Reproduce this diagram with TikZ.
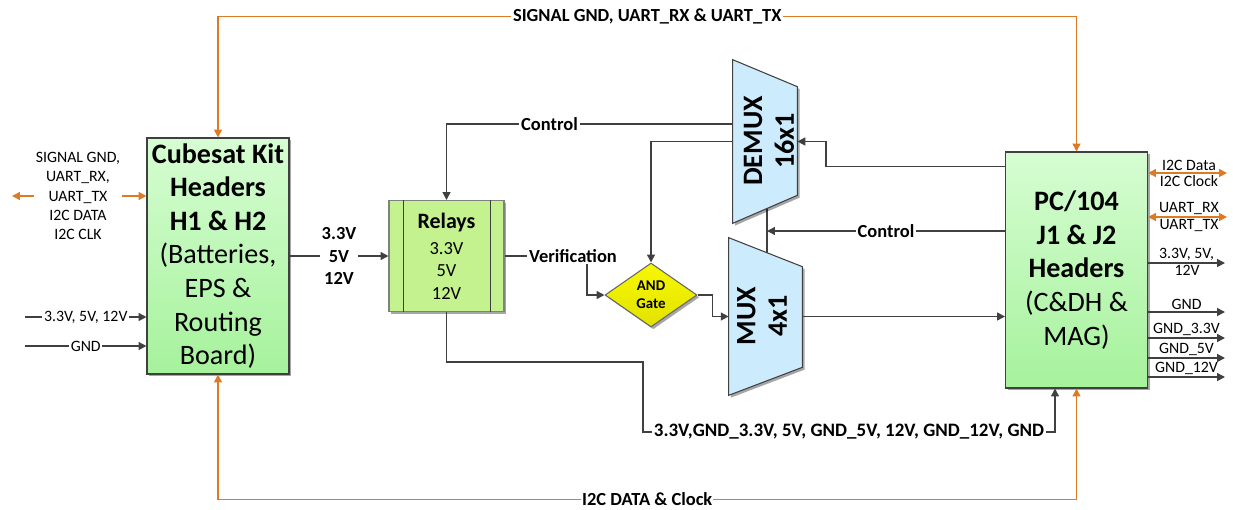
\documentclass[tikz,border=0pt]{standalone}
\usepackage{fontspec}
\setmainfont{Carlito}
\usepackage{tikz}
\usetikzlibrary{arrows.meta,positioning,calc,fit,backgrounds,shapes.geometric,shadows}
\definecolor{sigline}{HTML}{DC7A26}
\definecolor{wire}{HTML}{404040}
\definecolor{hdrtop}{HTML}{D6FDD2}
\definecolor{hdrbot}{HTML}{A6F29C}
\definecolor{relayfill}{HTML}{C4F28E}
\definecolor{muxfill}{HTML}{CCEBFC}
\definecolor{gatetop}{HTML}{F8F800}
\definecolor{gatebot}{HTML}{E2E200}

\begin{document}
\begin{tikzpicture}[x=0.02cm,y=-0.02cm,>={Triangle[length=4.5pt,width=4.5pt]},
  shd/.style={drop shadow={shadow xshift=1.3pt,shadow yshift=-1.3pt,opacity=.35,fill=black}},
  hdr/.style={draw=wire,line width=.6pt,top color=hdrtop,bottom color=hdrbot,shd,minimum width=2.84cm,minimum height=4.72cm,inner sep=0pt,align=center,font=\fontsize{16}{19.1}\selectfont},
  relay/.style={draw=black!50,line width=.6pt,fill=relayfill,shd,minimum width=2.3cm,minimum height=2.22cm,inner sep=0pt,align=center,font=\fontsize{10.5}{12.8}\selectfont},
  muxbox/.style={minimum width=#1,inner sep=0pt},
  muxbody/.style={draw=wire,line width=.6pt,fill=muxfill,shd},
  muxtxt/.style={rotate=90,align=center,font=\fontsize{16}{18}\selectfont\bfseries},
  gate/.style={diamond,draw=black!60,line width=.6pt,top color=gatetop,bottom color=gatebot,shd,minimum width=1.84cm,minimum height=1.28cm,inner sep=0pt,align=center,font=\fontsize{8.5}{10.4}\selectfont\bfseries},
  conn/.style={->,draw=wire,line width=.85pt},
  wirel/.style={draw=wire,line width=.85pt},
  sig/.style={<->,draw=sigline,line width=.9pt},
  lbl/.style={fill=white,inner sep=1pt,font=\fontsize{10.5}{12.8}\selectfont\bfseries},
  note/.style={inner sep=1pt,align=center,font=\fontsize{9}{11}\selectfont}]
 \useasboundingbox (0,0) rectangle (1233,510);
 \node[hdr] (cubesat) at (218,256) {\textbf{Cubesat Kit}\\\textbf{Headers}\\\textbf{H1 \& H2}\\(Batteries,\\EPS \&\\Routing\\Board)};
 \node[hdr] (pc104) at (1076.5,270) {\textbf{PC/104}\\\textbf{J1 \& J2}\\\textbf{Headers}\\(C\&DH \&\\MAG)};
 \node[relay] (relays) at (446.5,256) {{\fontsize{12.5}{15}\selectfont\bfseries Relays}\\[2pt]3.3V\\5V\\12V};
 \draw[wire,line width=.6pt] ($(relays.north west)+(15,0)$) -- ($(relays.south west)+(15,0)$);
 \draw[wire,line width=.6pt] ($(relays.north east)+(-14,0)$) -- ($(relays.south east)+(-14,0)$);
 \node[gate] (andg) at (651,295) {AND\\Gate};
 \node[muxbox=1.28cm,minimum height=3.26cm] (demux) at (765,141.5) {};
 \node[muxbox=1.46cm,minimum height=3.14cm] (mux) at (765.5,316.5) {};
 \coordinate (ctl) at (767,231);
 \begin{scope}[on background layer]
  \draw[wirel] (ctl |- demux.center) -- (ctl |- mux.center);
  \filldraw[muxbody] (demux.north west) -- ($(demux.north east)+(0,27)$) -- ($(demux.south east)+(0,-28)$) -- (demux.south west) -- cycle;
  \filldraw[muxbody] (mux.north west) -- ($(mux.north east)+(0,29)$) -- ($(mux.south east)+(0,-28)$) -- (mux.south west) -- cycle;
 \end{scope}
 \node[muxtxt] (demuxt) at (769,141) {DEMUX\\16x1};
 \node[muxtxt] (muxt) at (762,316) {MUX\\4x1};

 \draw[sig] (cubesat.north) -- ++(0,-121) -| node[lbl,pos=.25]{SIGNAL GND, UART\_RX \& UART\_TX} (pc104.north);
 \draw[sig] (cubesat.south) -- ++(0,125) -| node[lbl,pos=.25,inner sep=.5pt]{I2C DATA \& Clock} (pc104.south);
 \draw[conn] (cubesat.east) -- node[lbl,align=center]{3.3V\\5V\\12V} (relays.west);
 \draw[conn] ($(demux.west)+(0,-17.5)$) -| node[lbl,pos=.32]{Control} (relays.north);
 \draw[conn] (demux.west) -| (andg.north);
 \coordinate (vb) at (587,295);
 \draw[conn] (relays.east) -| (vb) -- (andg.west);
 \node[lbl] (verif) at (573,256) {Verification};
 \draw[conn] (andg.east) -- ++(15,0) |- (mux.west);
 \draw[conn] ($(pc104.north west)+(0,15)$) -- ++(-179,0) |- (demux.east);
 \draw[conn] (ctl -| pc104.west) -- node[lbl]{Control} (ctl);
 \draw[conn] (mux.east) -- (mux.east -| pc104.west);
 \draw[conn] (relays.south) |- (643,362) -- (643,432) -| node[lbl,pos=.25,font=\fontsize{10.8}{13}\selectfont\bfseries]{3.3V,GND\_3.3V, 5V, GND\_5V, 12V, GND\_12V, GND} ($(pc104.south west)+(50,0)$);

 \coordinate (lsig) at (12,196);
 \draw[sig] (lsig) -- (lsig -| cubesat.west);
 \node[note,fill=white] (lsigt) at (78,196) {SIGNAL GND,\\UART\_RX,\\UART\_TX\\I2C DATA\\I2C CLK};
 \coordinate (lpwr) at (25,317);
 \draw[conn] (lpwr) -- node[note,fill=white]{3.3V, 5V, 12V} (lpwr -| cubesat.west);
 \coordinate (lgnd) at (25,346);
 \draw[conn] (lgnd) -- node[note,fill=white]{GND} (lgnd -| cubesat.west);

 \foreach \y/\a/\b [count=\i] in {173/I2C Data/I2C Clock, 217/UART\_RX/UART\_TX}{
   \coordinate (rs\i) at (1227,\y);
   \draw[sig] (rs\i -| pc104.east) -- (rs\i);
   \node[note,above] (rsa\i) at (1189,\y) {\a};
   \node[note,below] (rsb\i) at (1189,\y) {\b};
 }
 \foreach \y/\a [count=\i] in {263/{3.3V, 5V,}, 312/GND, 338/GND\_3.3V, 358/GND\_5V, 377/GND\_12V}{
   \coordinate (rp\i) at (1225,\y);
   \draw[conn] (rp\i -| pc104.east) -- node[note,above] (rpa\i) {\a} (rp\i);
 }
 \node[note,below] (rpb1) at (1187,263) {12V};
\end{tikzpicture}
\end{document}
